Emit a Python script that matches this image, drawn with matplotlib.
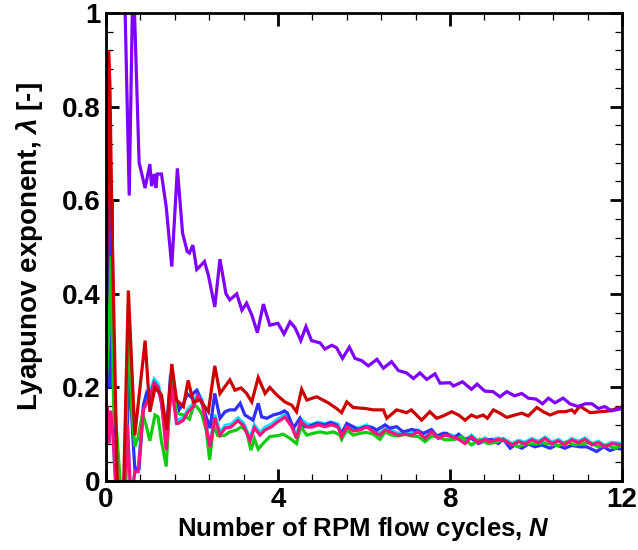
import matplotlib
matplotlib.use("Agg")
import matplotlib.pyplot as plt
from matplotlib.ticker import MultipleLocator, FuncFormatter

# ---------------------------------------------------------------------------
# Data: (N, lambda) vertices, one pair of lists per run
# ---------------------------------------------------------------------------

purple_n = [0.0, 0.30, 0.54, 0.63, 0.77, 0.91, 1.02, 1.06, 1.12, 1.16, 1.19, 1.29, 1.40, 1.53,
            1.66, 1.78, 1.89, 1.94, 2.02, 2.11, 2.20, 2.29, 2.38, 2.53, 2.65, 2.79, 2.88, 3.04,
            3.16, 3.27, 3.39, 3.52, 3.66, 3.81, 4.00, 4.14, 4.28, 4.40, 4.53, 4.65, 4.78, 4.98,
            5.09, 5.25, 5.36, 5.50, 5.66, 5.79, 5.95, 6.10, 6.30, 6.45, 6.64, 6.80, 6.99, 7.15,
            7.30, 7.46, 7.65, 7.77, 8.00, 8.08, 8.29, 8.50, 8.63, 8.81, 9.00, 9.16, 9.32, 9.50,
            9.67, 9.82, 10.00, 10.15, 10.29, 10.44, 10.63, 10.79, 10.98, 11.14, 11.30, 11.45,
            11.60, 11.76, 12.00]
purple_l = [3.0, 1.6, 0.61, 1.10, 0.68, 0.626, 0.677, 0.63, 0.656, 0.626, 0.656, 0.656, 0.586, 0.458,
            0.668, 0.53, 0.49, 0.487, 0.504, 0.452, 0.46, 0.469, 0.44, 0.372, 0.474, 0.40, 0.387, 0.40,
            0.365, 0.38, 0.355, 0.317, 0.378, 0.333, 0.337, 0.314, 0.34, 0.327, 0.30, 0.33, 0.30, 0.295,
            0.282, 0.29, 0.285, 0.262, 0.286, 0.262, 0.257, 0.246, 0.26, 0.241, 0.255, 0.236, 0.231, 0.219,
            0.231, 0.217, 0.229, 0.209, 0.21, 0.203, 0.212, 0.196, 0.207, 0.192, 0.191, 0.18, 0.191, 0.182,
            0.187, 0.177, 0.175, 0.165, 0.177, 0.167, 0.177, 0.165, 0.159, 0.165, 0.165, 0.155,
            0.159, 0.15, 0.155]

red_n = [0.0, 0.06, 0.09, 0.14, 0.26, 0.33, 0.40, 0.52, 0.67, 0.91, 1.02, 1.14, 1.29, 1.41, 1.53,
         1.64, 1.80, 1.91, 2.03, 2.19, 2.38, 2.53, 2.65, 2.88, 3.00, 3.14, 3.27, 3.39, 3.54, 3.70,
         3.81, 3.97, 4.16, 4.32, 4.43, 4.55, 4.67, 4.90, 5.17, 5.36, 5.48, 5.60, 5.75, 6.02, 6.22,
         6.45, 6.53, 6.76, 6.99, 7.10, 7.34, 7.53, 7.69, 7.84, 8.04, 8.20, 8.35, 8.50, 8.62, 8.77,
         8.87, 9.01, 9.16, 9.32, 9.51, 9.67, 9.82, 10.02, 10.17, 10.33, 10.52, 10.68, 10.83, 10.90,
         11.02, 11.26, 11.49, 11.72, 11.87, 12.00]
red_l = [0.25, 0.92, 0.85, 0.55, 0.0, -0.15, -0.05, 0.407, 0.098, 0.30, 0.148, 0.199, 0.184, 0.109, 0.25,
         0.173, 0.159, 0.215, 0.169, 0.173, 0.148, 0.246, 0.187, 0.216, 0.194, 0.199, 0.187, 0.169, 0.221, 0.187,
         0.20, 0.184, 0.169, 0.162, 0.148, 0.196, 0.173, 0.18, 0.167, 0.155, 0.146, 0.169, 0.157, 0.155, 0.152,
         0.152, 0.134, 0.152, 0.146, 0.152, 0.13, 0.148, 0.134, 0.139, 0.148, 0.141, 0.13, 0.141, 0.136, 0.141,
         0.134, 0.152, 0.145, 0.136, 0.141, 0.145, 0.139, 0.157, 0.148, 0.141, 0.148, 0.148, 0.152, 0.146,
         0.16, 0.146, 0.148, 0.15, 0.155, 0.158]

blue_n = [0.0, 0.02, 0.04, 0.06, 0.08, 0.10, 0.12, 0.14, 0.18, 0.28, 0.40, 0.46, 0.54, 0.62, 0.67,
          0.77, 0.87, 0.94, 1.02, 1.12, 1.21, 1.29, 1.40, 1.50, 1.58, 1.70, 1.80, 1.89, 1.97, 2.07,
          2.11, 2.22, 2.33, 2.42, 2.53, 2.65, 2.77, 2.88, 3.00, 3.12, 3.23, 3.30, 3.42, 3.54, 3.62,
          3.74, 3.89, 4.05, 4.15, 4.22, 4.36, 4.51, 4.59, 4.70, 4.90, 5.09, 5.21, 5.36, 5.48, 5.60,
          5.75, 5.87, 6.02, 6.18, 6.30, 6.49, 6.60, 6.76, 6.91, 7.11, 7.26, 7.38, 7.57, 7.69, 7.84,
          7.92, 8.08, 8.20, 8.35, 8.47, 8.66, 8.81, 8.97, 9.12, 9.24, 9.40, 9.51, 9.67, 9.82, 9.98,
          10.13, 10.33, 10.48, 10.67, 10.83, 11.02, 11.18, 11.41, 11.57, 11.72, 11.87, 12.00]
blue_l = [0.25, 0.82, 0.20, 0.80, 0.30, 0.72, 0.20, 0.60, 0.20, -0.05, -0.10, 0.0, 0.244, 0.10, 0.027,
          0.027, 0.162, 0.187, 0.173, 0.21, 0.20, 0.166, 0.095, 0.226, 0.194, 0.152, 0.166, 0.186, 0.18, 0.191,
          0.194, 0.17, 0.137, 0.113, 0.187, 0.134, 0.148, 0.152, 0.152, 0.166, 0.141, 0.137, 0.13, 0.166, 0.137,
          0.134, 0.141, 0.145, 0.15, 0.145, 0.113, 0.134, 0.116, 0.116, 0.123, 0.12, 0.125, 0.12, 0.102, 0.123,
          0.116, 0.11, 0.116, 0.115, 0.109, 0.12, 0.113, 0.116, 0.105, 0.11, 0.107, 0.102, 0.11, 0.096, 0.102,
          0.102, 0.091, 0.10, 0.089, 0.093, 0.08, 0.086, 0.089, 0.08, 0.089, 0.07, 0.077, 0.07, 0.079, 0.073,
          0.077, 0.07, 0.077, 0.07, 0.076, 0.073, 0.073, 0.063, 0.073, 0.065, 0.07, 0.068]

magenta_n = [0.0, 0.03, 0.07, 0.11, 0.16, 0.25, 0.38, 0.50, 0.58, 0.67, 0.75, 0.87, 1.00, 1.12, 1.21,
             1.29, 1.40, 1.52, 1.64, 1.68, 1.80, 1.91, 2.03, 2.14, 2.24, 2.36, 2.42, 2.53, 2.65, 2.77,
             2.90, 3.07, 3.20, 3.35, 3.45, 3.58, 3.70, 3.85, 3.97, 4.09, 4.16, 4.32, 4.43, 4.53, 4.67,
             4.78, 4.94, 5.09, 5.25, 5.40, 5.48, 5.60, 5.75, 5.91, 6.06, 6.22, 6.37, 6.49, 6.64, 6.80,
             6.95, 7.11, 7.26, 7.42, 7.57, 7.73, 7.88, 8.04, 8.20, 8.35, 8.50, 8.66, 8.81, 8.93, 9.12,
             9.28, 9.44, 9.59, 9.75, 9.90, 10.06, 10.21, 10.37, 10.52, 10.67, 10.83, 10.98, 11.14,
             11.30, 11.45, 11.61, 11.76, 12.00]
magenta_l = [0.10, 0.16, 0.08, 0.15, 0.10, -0.05, -0.10, 0.12, -0.05, 0.02, 0.02, 0.152, 0.177, 0.21, 0.20,
             0.17, 0.066, 0.205, 0.123, 0.123, 0.13, 0.148, 0.159, 0.182, 0.165, 0.10, 0.073, 0.136, 0.098, 0.113,
             0.115, 0.129, 0.118, 0.086, 0.114, 0.098, 0.109, 0.116, 0.125, 0.132, 0.137, 0.116, 0.091, 0.127, 0.116,
             0.115, 0.12, 0.116, 0.12, 0.115, 0.095, 0.116, 0.107, 0.109, 0.116, 0.105, 0.098, 0.109, 0.104, 0.098,
             0.10, 0.098, 0.105, 0.091, 0.105, 0.091, 0.098, 0.095, 0.089, 0.08, 0.095, 0.082, 0.089, 0.084, 0.089,
             0.086, 0.077, 0.084, 0.08, 0.088, 0.082, 0.091, 0.08, 0.086, 0.077, 0.088, 0.082, 0.089,
             0.077, 0.082, 0.073, 0.08, 0.077]

cyan_n = magenta_n
cyan_l = [0.10, 0.16, 0.08, 0.15, 0.10, -0.05, -0.10, 0.12, -0.05, 0.02, 0.03, 0.158, 0.185, 0.218, 0.208,
          0.176, 0.07, 0.212, 0.13, 0.13, 0.136, 0.154, 0.166, 0.19, 0.172, 0.105, 0.078, 0.142, 0.104, 0.119,
          0.121, 0.135, 0.124, 0.092, 0.12, 0.104, 0.115, 0.122, 0.131, 0.138, 0.143, 0.122, 0.097, 0.133, 0.122,
          0.121, 0.126, 0.122, 0.126, 0.121, 0.10, 0.121, 0.112, 0.114, 0.12, 0.109, 0.102, 0.113, 0.108, 0.102,
          0.104, 0.102, 0.109, 0.095, 0.108, 0.094, 0.101, 0.098, 0.092, 0.083, 0.098, 0.085, 0.092, 0.087, 0.092,
          0.089, 0.08, 0.087, 0.083, 0.091, 0.085, 0.094, 0.083, 0.089, 0.08, 0.091, 0.085, 0.092,
          0.08, 0.085, 0.076, 0.083, 0.08]

green_n = [0.0, 0.06, 0.12, 0.18, 0.22, 0.33, 0.40, 0.45, 0.52, 0.60, 0.67, 0.75, 0.85, 0.93, 1.02,
           1.14, 1.21, 1.29, 1.40, 1.52, 1.64, 1.80, 1.94, 2.03, 2.11, 2.22, 2.33, 2.41, 2.50, 2.60,
           2.75, 2.88, 3.04, 3.15, 3.27, 3.37, 3.45, 3.54, 3.65, 3.81, 4.00, 4.12, 4.28, 4.43, 4.53,
           4.67, 4.82, 4.98, 5.13, 5.29, 5.44, 5.48, 5.60, 5.75, 5.91, 6.06, 6.22, 6.37, 6.49, 6.64,
           6.80, 6.95, 7.11, 7.26, 7.42, 7.57, 7.73, 7.88, 7.98, 8.11, 8.27, 8.50, 8.69, 8.88, 9.04,
           9.24, 9.43, 9.59, 9.78, 9.98, 10.17, 10.33, 10.52, 10.71, 10.90, 11.10, 11.26, 11.45,
           11.65, 11.84, 12.00]
green_l = [0.20, 0.30, 0.48, 0.148, 0.14, 0.0, -0.05, 0.0, 0.371, 0.15, 0.073, 0.095, 0.145, 0.12, 0.086,
           0.141, 0.137, 0.085, 0.031, 0.226, 0.145, 0.141, 0.132, 0.159, 0.159, 0.145, 0.109, 0.045, 0.118, 0.097,
           0.097, 0.105, 0.109, 0.116, 0.105, 0.066, 0.09, 0.068, 0.08, 0.095, 0.097, 0.10, 0.091, 0.08, 0.116,
           0.098, 0.102, 0.105, 0.102, 0.105, 0.098, 0.089, 0.109, 0.098, 0.102, 0.104, 0.10, 0.089, 0.105, 0.098,
           0.096, 0.10, 0.096, 0.095, 0.084, 0.096, 0.094, 0.088, 0.088, 0.089, 0.095, 0.077, 0.089, 0.08, 0.082,
           0.088, 0.079, 0.073, 0.08, 0.079, 0.082, 0.079, 0.075, 0.084, 0.077, 0.08, 0.082, 0.073,
           0.077, 0.07, 0.078]

X_TICKS = [0, 4, 8, 12]
Y_TICKS = [0, 0.2, 0.4, 0.6, 0.8, 1.0]

PURPLE  = "#8000ff"
RED     = "#cc0000"
CYAN    = "#00e5ff"
BLUE    = "#2f2fff"
GREEN   = "#10cc10"
MAGENTA = "#ff1080"

plt.rcParams.update({
    "font.family": "Liberation Sans",
    "font.weight": "bold",
    "mathtext.fontset": "custom",
    "mathtext.it": "Liberation Sans:italic:bold",
    "mathtext.rm": "Liberation Sans:bold",
})

fig = plt.figure(figsize=(6.38, 5.5), dpi=100)
ax = fig.add_axes([106 / 638, 1 - 481 / 550, 516 / 638, 468 / 550])

series = [
    (cyan_n, cyan_l, CYAN),
    (blue_n, blue_l, BLUE),
    (green_n, green_l, GREEN),
    (magenta_n, magenta_l, MAGENTA),
    (red_n, red_l, RED),
    (purple_n, purple_l, PURPLE),
]
for n, l, c in series:
    ax.plot(n, l, color=c, lw=2.3, solid_joinstyle="miter")

ax.set_xlim(0, 12)
ax.set_ylim(0, 1)
ax.set_xticks(X_TICKS)
ax.set_yticks(Y_TICKS)
ax.xaxis.set_minor_locator(MultipleLocator(0.8))
ax.yaxis.set_minor_locator(MultipleLocator(0.04))
ax.yaxis.set_major_formatter(FuncFormatter(lambda v, p: f"{v:g}"))

ax.tick_params(which="both", direction="in", top=True, right=True)
ax.tick_params(which="major", length=9, width=2.0, labelsize=20, pad=4)
ax.tick_params(which="minor", length=5, width=0.9)
for s in ax.spines.values():
    s.set_linewidth(2.0)

ax.set_xlabel("Number of RPM flow cycles, $N$", fontsize=18.5, fontweight="bold", labelpad=2)
ax.set_ylabel("Lyapunov exponent, $\\lambda$ [-]", fontsize=20, fontweight="bold", labelpad=12)

fig.savefig("out.png", dpi=100)
